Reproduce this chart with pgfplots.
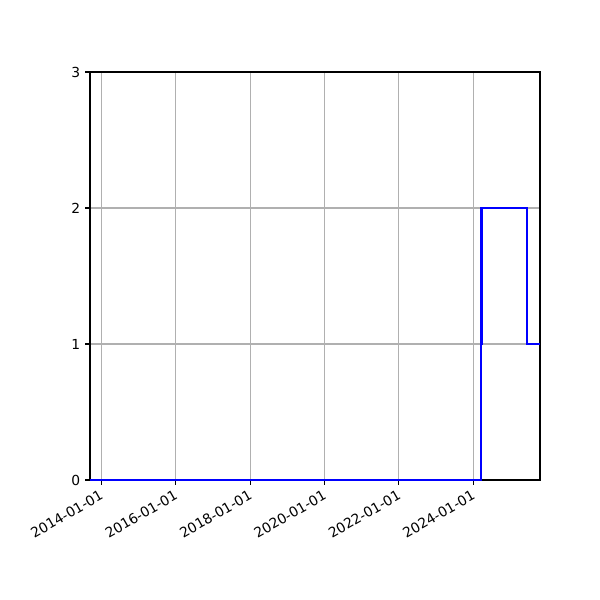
\documentclass[border=0pt]{standalone}
\usepackage{fontspec}
\setmainfont{DejaVu Sans}
\usepackage{pgfplots}
\pgfplotsset{compat=1.18}
\definecolor{gridgray}{HTML}{B0B0B0}

\begin{document}
\begin{tikzpicture}
\useasboundingbox (0,0) rectangle (6in,6in);
\begin{axis}[
    at={(0.9in,1.2in)},
    anchor=south west,
    scale only axis,
    width=4.5in,
    height=4.08in,
    xmin=2013.696, xmax=2025.793,
    ymin=0, ymax=3,
    ytick={0,1,2,3},
    xtick={2014,2016,2018,2020,2022,2024},
    xticklabels={2014-01-01,2016-01-01,2018-01-01,2020-01-01,2022-01-01,2024-01-01},
    x tick label style={rotate=30, anchor=north east, inner sep=1pt, yshift=-1pt, xshift=-2pt},
    tick label style={font=\fontsize{10}{12}\selectfont},
    /pgf/number format/assume math mode=true,
    grid=major,
    major grid style={gridgray, line width=0.8pt},
    axis line style={line width=0.8pt},
    tick style={black, line width=0.8pt},
    tick align=outside,
    major tick length=3.5pt,
    xtick pos=bottom, ytick pos=left,
    clip=false,
]
\addplot[blue, line width=1.5pt, line join=miter] coordinates {
    (2013.696,0) (2024.199,0) (2024.199,1) (2024.22,1) (2024.22,2)
    (2025.452,2) (2025.452,1) (2025.793,1)
};
\end{axis}
\end{tikzpicture}
\end{document}
